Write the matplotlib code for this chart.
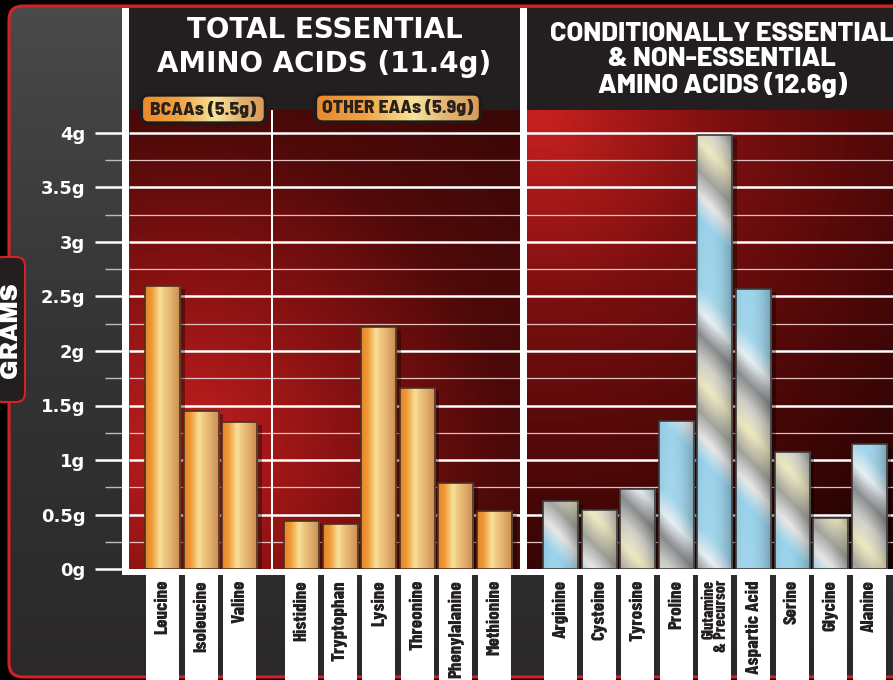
import numpy as np
import matplotlib
matplotlib.use("Agg")
import matplotlib.pyplot as plt
from matplotlib.patches import Rectangle, FancyBboxPatch
from matplotlib.colors import LinearSegmentedColormap

# --- data (grams per serving) ---
bcaa_names = ["Leucine", "Isoleucine", "Valine"]
bcaa_grams = [2.6, 1.45, 1.35]
eaa_names = ["Histidine", "Tryptophan", "Lysine", "Threonine", "Phenylalanine", "Methionine"]
eaa_grams = [0.44, 0.41, 2.22, 1.66, 0.79, 0.53]
ne_names = ["Arginine", "Cysteine", "Tyrosine", "Proline", "Glutamine\n& Precursor",
            "Aspartic Acid", "Serine", "Glycine", "Alanine"]
ne_grams = [0.62, 0.54, 0.73, 1.36, 3.98, 2.57, 1.07, 0.47, 1.15]
ytick_vals = [0, 0.5, 1, 1.5, 2, 2.5, 3, 3.5, 4]
ytick_labels = ["0g", "0.5g", "1g", "1.5g", "2g", "2.5g", "3g", "3.5g", "4g"]
minor_vals = [0.25, 0.75, 1.25, 1.75, 2.25, 2.75, 3.25, 3.75]
title_ess = "TOTAL ESSENTIAL\nAMINO ACIDS (11.4g)"
title_ne = "CONDITIONALLY ESSENTIAL\n& NON-ESSENTIAL\nAMINO ACIDS (12.6g)"
badge_bcaa = "BCAAs (5.5g)"
badge_eaa = "OTHER EAAs (5.9g)"

# --- layout (pixels of the 893x680 picture) ---
W, H = 893, 680
PX_X = 38.6      # px per bar slot
PX_Y = 109.0     # px per gram
Y0 = 569.0       # py of 0g
X0 = 162.5       # px centre of first bar
AX_LEFT = 122
COND = ["Barlow Condensed", "DejaVu Sans"]
SEMI = ["Barlow Semi Condensed", "DejaVu Sans"]
REG = ["Barlow", "DejaVu Sans"]
WIDE = ["Archivo Black", "DejaVu Sans"]


def px2x(px):
    return (px - X0) / PX_X


def py2y(py):
    return (Y0 - py) / PX_Y


bcaa_x = np.arange(len(bcaa_names), dtype=float)
eaa_x = 3.6 + np.arange(len(eaa_names))
ne_x = 10.31 + np.arange(len(ne_names))
bar_w = 0.907
col_w = 0.855

fig = plt.figure(figsize=(W / 100, H / 100), dpi=100)
fig.patch.set_facecolor("black")

# background panel (pixel coordinates)
ax_bg = fig.add_axes([0, 0, 1, 1], zorder=0)
ax_bg.set_xlim(0, W)
ax_bg.set_ylim(H, 0)
ax_bg.axis("off")
panel = FancyBboxPatch((9, 6), W + 40, H - 9, boxstyle="round,pad=0,rounding_size=14",
                       facecolor="none", edgecolor="#d42026", lw=2.2, zorder=2)
ax_bg.add_patch(panel)
yy = np.linspace(0, 1, 200)[:, None] * np.ones((1, 10))
gray = LinearSegmentedColormap.from_list("g", ["#4a4a4b", "#353435", "#2a2828"])
im = ax_bg.imshow(gray(yy), extent=[0, W + 40, H, 0], aspect="auto", zorder=1)
im.set_clip_path(panel)
ax_bg.add_patch(FancyBboxPatch((-6, 257), 31, 145, boxstyle="round,pad=0,rounding_size=9",
                               facecolor="#231f20", edgecolor="#d42026", lw=1.5, zorder=3))
ax_bg.text(11.5, 330, "GRAMS", rotation=90, ha="center", va="center", color="white",
           fontsize=17, family=WIDE, zorder=4)

# main axes
ax = fig.add_axes([AX_LEFT / W, 0, 1 - AX_LEFT / W, 1], zorder=1)
ax.patch.set_visible(False)
xl = (px2x(AX_LEFT), px2x(W))
yl = (py2y(H), py2y(0))

# header band
ax.add_patch(Rectangle((px2x(129), py2y(110)), xl[1] - px2x(129), py2y(8) - py2y(110),
                       facecolor="#231f20", edgecolor="none", zorder=1))


def red_field(x0, x1, y0, y1, cx, cy, r, stops):
    gx, gy = np.meshgrid(np.arange(x0, x1), np.arange(y0, y1))
    t = np.clip(np.hypot(gx - cx, gy - cy) / r, 0, 1)
    cmap = LinearSegmentedColormap.from_list("r", stops)
    return ax.imshow(cmap(t), extent=[px2x(x0), px2x(x1), py2y(y1), py2y(y0)],
                     aspect="auto", origin="upper", zorder=1, interpolation="bilinear")


red_field(129, 520, 110, 569, 185, 440, 470, ["#c21f1f", "#8a1212", "#4e0909", "#3a0707"])
red_field(527, W, 110, 569, 540, 115, 560, ["#c8211f", "#7a0f0f", "#4a0707", "#1e0303"])

# grid lines
ax.hlines(minor_vals, px2x(129), xl[1], colors="#e2c0c0", lw=0.9, zorder=2)
ax.hlines(ytick_vals[1:], px2x(129), xl[1], colors="white", lw=1.8, zorder=2)

# bars
orange = LinearSegmentedColormap.from_list(
    "o", [(0, "#e5852a"), (0.18, "#f09a35"), (0.42, "#f6e19a"), (0.55, "#f0c880"),
          (0.8, "#dca668"), (1, "#c98c4e")])
silver = LinearSegmentedColormap.from_list(
    "s", [(0, "#9fd9f2"), (0.28, "#a8dcf2"), (0.38, "#eef6fa"), (0.48, "#909193"),
          (0.58, "#d6d6d0"), (0.68, "#f5efc6"), (0.80, "#a9a9a4"), (0.90, "#eeeeee"),
          (1, "#9fd9f2")])
hgrad = np.linspace(0, 1, 64)[None, :]

for xs, vals, kind in [(bcaa_x, bcaa_grams, "o"), (eaa_x, eaa_grams, "o"), (ne_x, ne_grams, "s")]:
    ax.bar(xs + 0.12, np.array(vals) - 0.03, width=bar_w, color="black", alpha=0.35, zorder=2.5)
    bars = ax.bar(xs, vals, width=bar_w, facecolor="none",
                  edgecolor="#4a3020" if kind == "o" else "#3c3c3c", lw=1.2, zorder=4)
    for x, v, rect in zip(xs, vals, bars):
        ext = [x - bar_w / 2, x + bar_w / 2, 0, v]
        if kind == "o":
            img = orange(np.repeat(hgrad, 4, axis=0))
        else:
            ny = max(int(v * PX_Y), 2)
            nx = 36
            gx, gy = np.meshgrid(np.linspace(ext[0], ext[1], nx), np.linspace(v, 0, ny))
            u = (Y0 - gy * PX_Y) - (X0 + gx * PX_X)
            s = (u / 240.0) % 1.0
            img = silver(s)
            xn = np.linspace(0, 1, nx)[None, :]
            shade = 1 - 0.28 * xn ** 3 - 0.08 * (1 - xn) ** 4
            img[..., :3] *= shade[..., None]
        bi = ax.imshow(img, extent=ext, aspect="auto", zorder=3, interpolation="bilinear")
        bi.set_clip_path(rect)

# axis / separators / baseline
ax.add_patch(Rectangle((px2x(122), py2y(575)), 7 / PX_X, py2y(8) - py2y(575),
                       facecolor="white", edgecolor="none", zorder=5))
ax.add_patch(Rectangle((px2x(520), py2y(575)), 7 / PX_X, py2y(8) - py2y(575),
                       facecolor="white", edgecolor="none", zorder=5))
ax.add_patch(Rectangle((px2x(271), 0), 2 / PX_X, py2y(110),
                       facecolor="white", edgecolor="none", zorder=2))
ax.add_patch(Rectangle((px2x(122), py2y(575)), xl[1] - px2x(122), py2y(569) - py2y(575),
                       facecolor="white", edgecolor="none", zorder=5))

# label columns
for xs, names in [(bcaa_x, bcaa_names), (eaa_x, eaa_names), (ne_x, ne_names)]:
    for x, name in zip(xs, names):
        ax.add_patch(Rectangle((x - col_w / 2, py2y(H)), col_w, py2y(575) - py2y(H),
                               facecolor="white", edgecolor="none", zorder=5))
        two = "\n" in name
        ax.text(x, py2y(580), name, rotation=90, ha="center", va="top", ma="right",
                fontsize=11.5 if two else 13.5, linespacing=0.78, fontweight="heavy",
                family=COND, color="#231f20", zorder=6)

# titles
ax.text((px2x(129) + px2x(520)) / 2, py2y(47), title_ess, ha="center", va="center",
        color="white", fontsize=20, fontweight="bold", linespacing=1.3, zorder=6)
ax.text(px2x(722), py2y(60), title_ne, ha="center", va="center", color="white",
        fontsize=19.5, fontweight="heavy", family=REG, linespacing=1.05, zorder=6)

# badges
badge_cmap = LinearSegmentedColormap.from_list(
    "b", [(0, "#e9892c"), (0.3, "#f0a444"), (0.6, "#f6e49c"), (0.8, "#e2b472"), (1, "#d89a58")])
for cx_, cy_, wpx, text in [(bcaa_x.mean() + 0.06, py2y(109), 124, badge_bcaa),
                            (eaa_x.mean(), py2y(108), 165, badge_eaa)]:
    bw, bh = wpx / PX_X, 28 / PX_Y
    box = FancyBboxPatch((cx_ - bw / 2, cy_ - bh / 2), bw, bh,
                         boxstyle="round,pad=0,rounding_size=0.18", mutation_aspect=PX_X / PX_Y,
                         facecolor="none", edgecolor="#1d1a1a", lw=2.4, zorder=8)
    ax.add_patch(box)
    bimg = ax.imshow(badge_cmap(np.repeat(hgrad, 4, axis=0)),
                     extent=[cx_ - bw / 2, cx_ + bw / 2, cy_ - bh / 2, cy_ + bh / 2],
                     aspect="auto", zorder=7)
    bimg.set_clip_path(box)
    ax.text(cx_, cy_, text, ha="center", va="center", fontsize=14, fontweight="heavy",
            family=SEMI, color="#2a211c", zorder=9)

# ticks
ax.set_xlim(*xl)
ax.set_ylim(*yl)
ax.set_xticks([])
ax.set_yticks(ytick_vals, ytick_labels)
ax.set_yticks(minor_vals, minor=True)
ax.tick_params(axis="y", which="major", length=19.4, width=1.8, color="white", pad=7,
               labelsize=13, labelcolor="white")
ax.tick_params(axis="y", which="minor", length=12, width=1.0, color="#bdbdbd")
for lbl in ax.get_yticklabels():
    lbl.set_fontweight("bold")
for sp in ax.spines.values():
    sp.set_visible(False)

fig.savefig("out.png", dpi=100, facecolor=fig.get_facecolor())
